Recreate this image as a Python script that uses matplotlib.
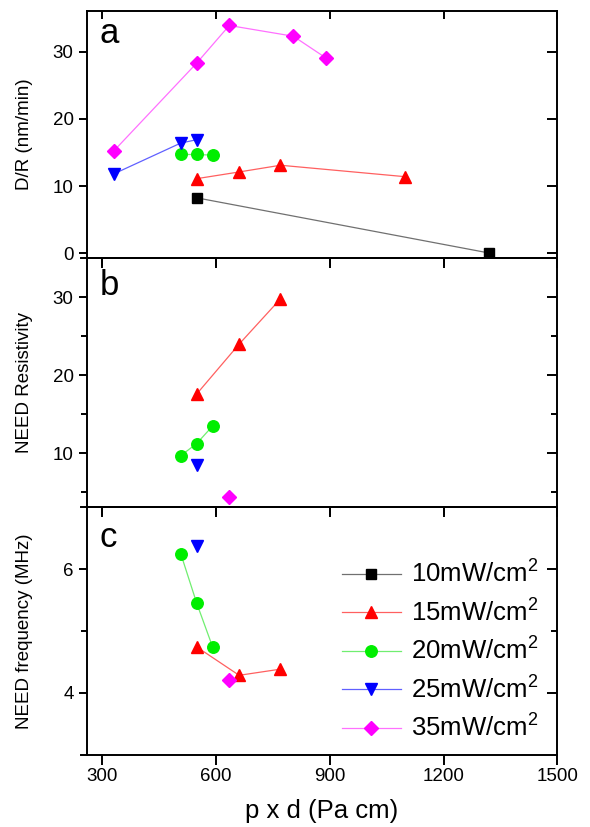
import matplotlib
matplotlib.use("Agg")
import matplotlib.pyplot as plt
from matplotlib.ticker import FixedLocator

plt.rcParams['font.family'] = ['Liberation Sans', 'DejaVu Sans']
plt.rcParams['mathtext.fontset'] = 'custom'
plt.rcParams['mathtext.rm'] = 'Liberation Sans'
plt.rcParams['mathtext.default'] = 'regular'

# ---- data ----
series_labels = ['10mW/cm$^{2}$', '15mW/cm$^{2}$', '20mW/cm$^{2}$', '25mW/cm$^{2}$', '35mW/cm$^{2}$']
series_colors = ['#000000', '#ff0000', '#00ee00', '#0000ff', '#ff00ff']
line_colors = ['#707070', '#ff6060', '#70ee70', '#6060ff', '#ff70ff']
series_markers = ['s', '^', 'o', 'v', 'D']

# panel a: D/R (nm/min)
a_x_10 = [549, 1319]
a_y_10 = [8.25, 0.05]
a_x_15 = [549, 661, 770, 1098]
a_y_15 = [11.1, 12.1, 13.1, 11.4]
a_x_20 = [507, 549, 591]
a_y_20 = [14.7, 14.7, 14.6]
a_x_25 = [330, 507, 549]
a_y_25 = [11.8, 16.4, 16.9]
a_x_35 = [330, 549, 635, 804, 889]
a_y_35 = [15.2, 28.3, 33.9, 32.3, 29.1]

# panel b: NEED Resistivity
b_x_15 = [549, 661, 770]
b_y_15 = [17.6, 24.0, 29.8]
b_x_20 = [507, 549, 591]
b_y_20 = [9.7, 11.25, 13.5]
b_x_25 = [549]
b_y_25 = [8.5]
b_x_35 = [635]
b_y_35 = [4.4]

# panel c: NEED frequency (MHz)
c_x_15 = [549, 661, 770]
c_y_15 = [4.74, 4.28, 4.38]
c_x_20 = [507, 549, 591]
c_y_20 = [6.25, 5.45, 4.74]
c_x_25 = [549]
c_y_25 = [6.38]
c_x_35 = [635]
c_y_35 = [4.21]

x_ticks = [300, 600, 900, 1200, 1500]

W, H = 590, 827
fig = plt.figure(figsize=(W / 100, H / 100), dpi=100)

left = 86.7 / W
width = (557.3 - 86.7) / W
def fy(px):
    return 1 - px / H

ax_a = fig.add_axes([left, fy(258.3), width, fy(10.7) - fy(258.3)])
ax_b = fig.add_axes([left, fy(507.3), width, fy(258.3) - fy(507.3)])
ax_c = fig.add_axes([left, fy(755.0), width, fy(507.3) - fy(755.0)])

ms = {'s': 7.5, '^': 8.5, 'o': 8.3, 'v': 8.5, 'D': 7.3}

def plot_series(ax, x, y, idx):
    ax.plot(x, y, color=line_colors[idx], lw=0.9, marker=series_markers[idx],
            ms=ms[series_markers[idx]], mec=series_colors[idx], mfc=series_colors[idx],
            label=series_labels[idx], zorder=3)

plot_series(ax_a, a_x_10, a_y_10, 0)
plot_series(ax_a, a_x_15, a_y_15, 1)
plot_series(ax_a, a_x_20, a_y_20, 2)
plot_series(ax_a, a_x_25, a_y_25, 3)
plot_series(ax_a, a_x_35, a_y_35, 4)

plot_series(ax_b, b_x_15, b_y_15, 1)
plot_series(ax_b, b_x_20, b_y_20, 2)
plot_series(ax_b, b_x_25, b_y_25, 3)
plot_series(ax_b, b_x_35, b_y_35, 4)

# empty 10 mW series in c so that the legend lists all five
ax_c.plot([], [], color=line_colors[0], lw=0.9, marker='s', ms=ms['s'],
          mec=series_colors[0], mfc=series_colors[0], label=series_labels[0])
plot_series(ax_c, c_x_15, c_y_15, 1)
plot_series(ax_c, c_x_20, c_y_20, 2)
plot_series(ax_c, c_x_25, c_y_25, 3)
plot_series(ax_c, c_x_35, c_y_35, 4)

ax_a.set_ylim(-0.75, 36.1)
ax_b.set_ylim(3.08, 35)
ax_c.set_ylim(2.99, 7.0)

ax_a.yaxis.set_major_locator(FixedLocator([0, 10, 20, 30]))
ax_a.yaxis.set_minor_locator(FixedLocator([]))
ax_b.yaxis.set_major_locator(FixedLocator([10, 20, 30]))
ax_b.yaxis.set_minor_locator(FixedLocator([5, 15, 25]))
ax_c.yaxis.set_major_locator(FixedLocator([4, 6]))
ax_c.yaxis.set_minor_locator(FixedLocator([5]))

for ax in (ax_a, ax_b, ax_c):
    ax.set_xlim(259, 1500)
    ax.xaxis.set_major_locator(FixedLocator(x_ticks))
    for s in ax.spines.values():
        s.set_linewidth(1.4)
    ax.spines['bottom'].set_bounds(245, 1500)
    ax.tick_params(axis='y', which='major', left=True, right=False, direction='out',
                   length=6, width=1.4, labelsize=13.5, pad=3.5)
    ax.tick_params(axis='y', which='minor', left=True, right=False, direction='out',
                   length=4, width=1.4)
    ax.tick_params(axis='x', which='major', bottom=True, top=False, direction='out',
                   length=7, width=1.4, labelsize=13.5, pad=2.5)
    axr = ax.twinx()
    axr.set_ylim(ax.get_ylim())
    axr.yaxis.set_major_locator(ax.yaxis.get_major_locator())
    axr.yaxis.set_minor_locator(ax.yaxis.get_minor_locator())
    axr.tick_params(axis='y', which='major', direction='in', length=7, width=1.4, labelright=False)
    axr.tick_params(axis='y', which='minor', direction='in', length=4, width=1.4)
    for s in axr.spines.values():
        s.set_visible(False)
    axt = ax.twiny()
    axt.set_xlim(ax.get_xlim())
    axt.xaxis.set_major_locator(FixedLocator(x_ticks))
    axt.tick_params(axis='x', which='major', direction='in', length=5.5, width=1.4, labeltop=False)
    for s in axt.spines.values():
        s.set_visible(False)
    ax.set_zorder(axt.get_zorder() + 2)
    ax.patch.set_visible(False)

ax_a.tick_params(axis='x', labelbottom=False)
ax_b.tick_params(axis='x', labelbottom=False)

ax_a.set_ylabel('D/R (nm/min)', fontsize=13.5)
ax_b.set_ylabel('NEED Resistivity', fontsize=13.5)
ax_c.set_ylabel('NEED frequency (MHz)', fontsize=13.5)
for ax in (ax_a, ax_b, ax_c):
    ax.yaxis.set_label_coords(-0.1135, 0.5)

ax_c.set_xlabel('p x d (Pa cm)', fontsize=18.5)
ax_c.xaxis.set_label_coords(0.5, -0.178)

ax_a.text(0.028, 0.868, 'a', transform=ax_a.transAxes, fontsize=25, ha='left', va='baseline')
ax_b.text(0.028, 0.853, 'b', transform=ax_b.transAxes, fontsize=25, ha='left', va='baseline')
ax_c.text(0.028, 0.841, 'c', transform=ax_c.transAxes, fontsize=25, ha='left', va='baseline')

leg = ax_c.legend(loc='upper left', bbox_to_anchor=(0.542, 0.785), frameon=False,
                  fontsize=18.5, handlelength=2.3, handletextpad=0.4, labelspacing=0.44,
                  borderpad=0, borderaxespad=0)

fig.savefig('out.png', dpi=100)
